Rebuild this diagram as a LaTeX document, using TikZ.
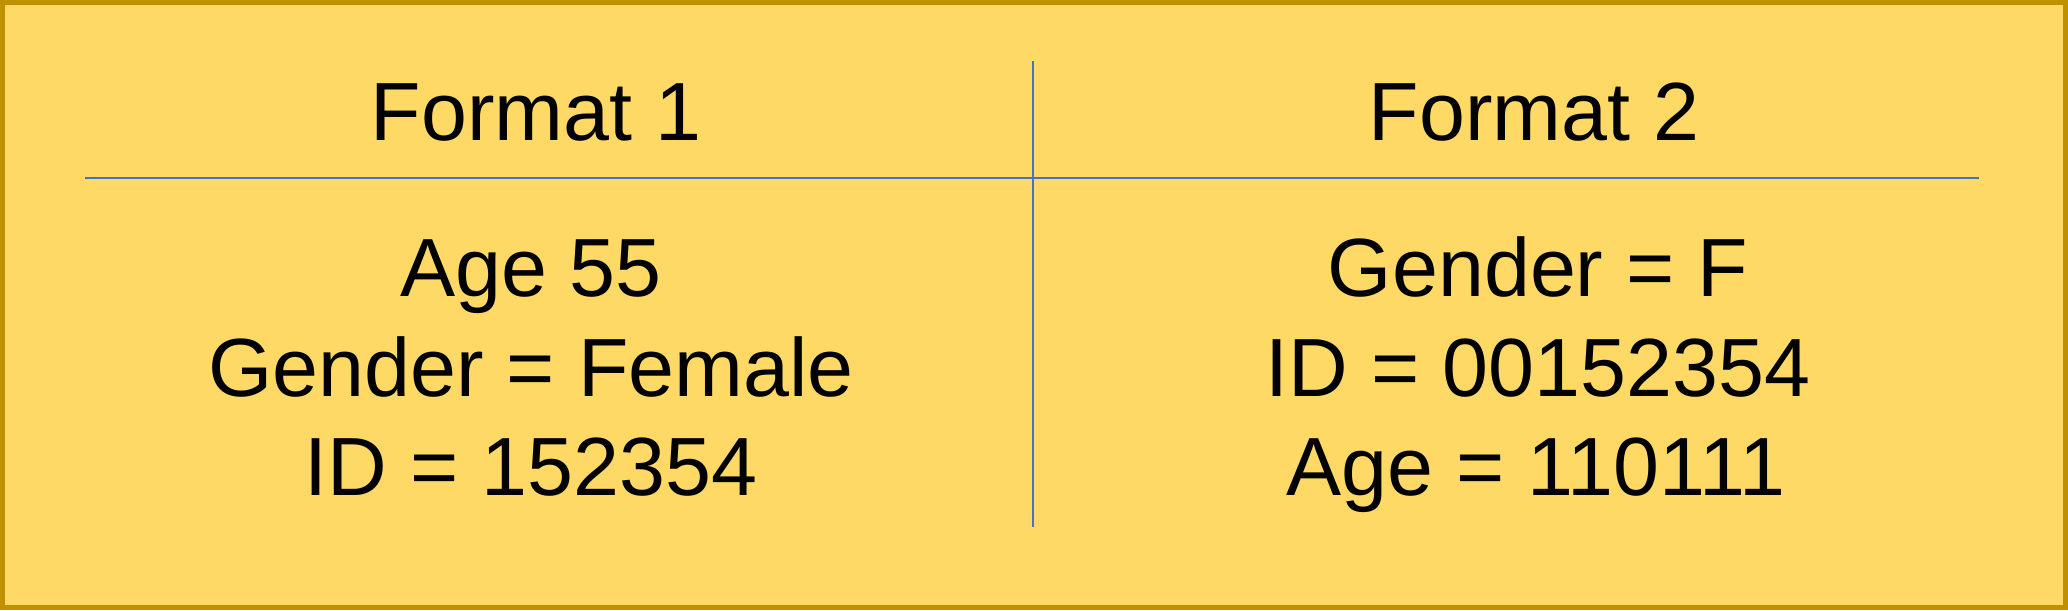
\documentclass[tikz,border=0pt]{standalone}
\usepackage{fontspec}
\setmainfont{Liberation Sans}
\definecolor{boxfill}{HTML}{FFD966}
\definecolor{boxedge}{HTML}{BF9000}
\definecolor{rule}{HTML}{4472C4}
\begin{document}
\begin{tikzpicture}[x=1pt,y=1pt,
  txt/.style={anchor=base,inner sep=0pt,font=\fontsize{82.6}{99.5}\selectfont},
  divider/.style={draw=rule,line width=1.8pt}]
\useasboundingbox (0,0) rectangle (2068,-610);
\draw[fill=boxfill,draw=boxedge,line width=5pt] (2.5,-2.5) rectangle (2065.5,-607.5);
% dividers
\coordinate (vt) at (1032.6,-61);
\coordinate (vb) at (1032.6,-527);
\coordinate (hl) at (85,-177.8);
\coordinate (hr) at (1979,-177.8);
\draw[divider] (vt) -- (vb);
\draw[divider] (hl) -- (hr);
% left column
\node[txt] (f1) at (536,-140.9) {Format 1};
\node[txt] (l1) at (531,-296.5) {Age 55};
\node[txt] (l2) at (531,-396) {Gender = Female};
\node[txt] (l3) at (531,-495.5) {ID = 152354};
% right column
\node[txt] (f2) at (1534,-140.9) {Format 2};
\node[txt] (r1) at (1538,-296.5) {Gender = F};
\node[txt] (r2) at (1538,-396) {ID = 00152354};
\node[txt] (r3) at (1536,-495.5) {Age = 110111};
\end{tikzpicture}
\end{document}
